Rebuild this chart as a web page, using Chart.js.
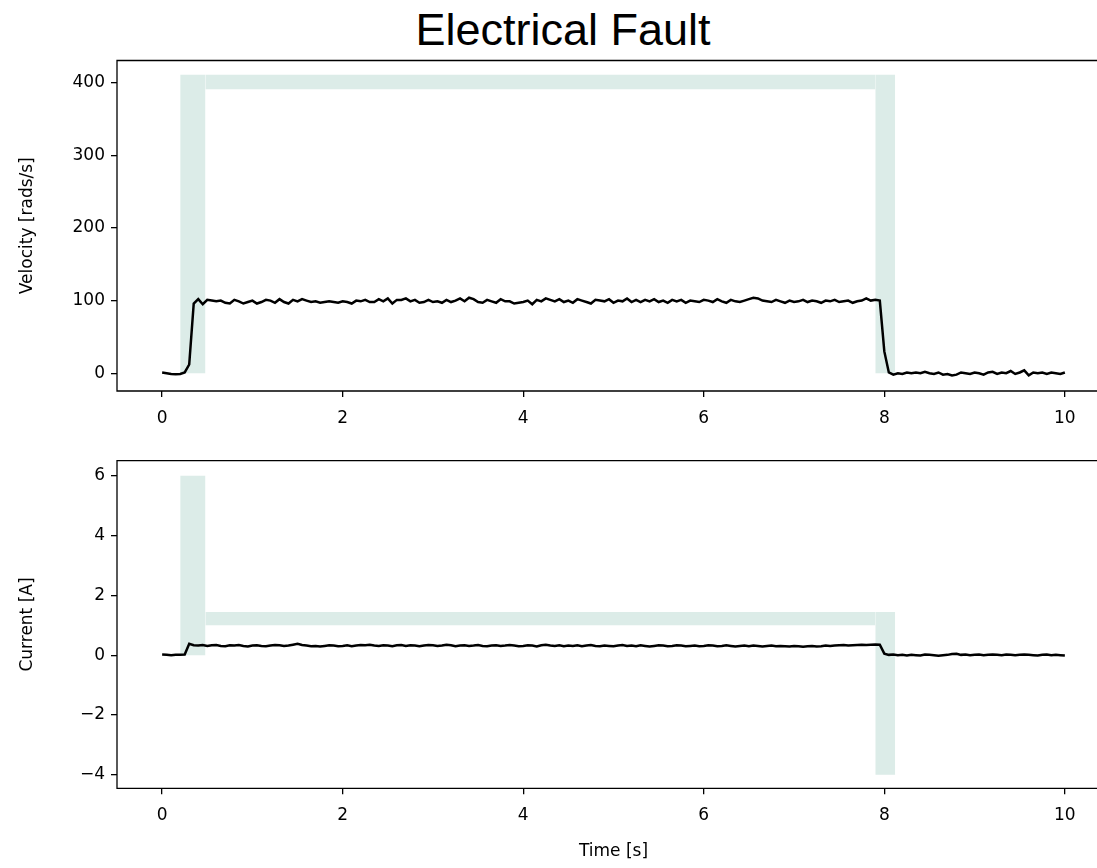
<!DOCTYPE html>
<html>
<head>
<meta charset="utf-8">
<script src="https://cdn.jsdelivr.net/npm/chart.js@4.4.1/dist/chart.umd.min.js"></script>
<style>
  html, body { margin: 0; padding: 0; background: #fff; overflow: hidden; width: 1097px; height: 868px; }
  #wrap { position: absolute; left: 0; top: 0; width: 1097px; height: 868px; overflow: hidden; }
  #title { position: absolute; left: 0; top: 7px; width: 1126px; text-align: center;
           font: 45px/45px "Liberation Sans", Arial, sans-serif; color: #000; }
  canvas { position: absolute; left: 0; }
  #velChart { top: 50px; }
  #curChart { top: 455px; }
</style>
</head>
<body>
<div id="wrap">
<div id="title">Electrical Fault</div>
<canvas id="velChart" width="1110" height="400"></canvas>
<canvas id="curChart" width="1110" height="413"></canvas>
</div>
<script>
const time = [
  0, 0.05, 0.1, 0.15, 0.2, 0.25, 0.3, 0.35, 0.4, 0.45,
  0.5, 0.55, 0.6, 0.65, 0.7, 0.75, 0.8, 0.85, 0.9, 0.95,
  1, 1.05, 1.1, 1.15, 1.2, 1.25, 1.3, 1.35, 1.4, 1.45,
  1.5, 1.55, 1.6, 1.65, 1.7, 1.75, 1.8, 1.85, 1.9, 1.95,
  2, 2.05, 2.1, 2.15, 2.2, 2.25, 2.3, 2.35, 2.4, 2.45,
  2.5, 2.55, 2.6, 2.65, 2.7, 2.75, 2.8, 2.85, 2.9, 2.95,
  3, 3.05, 3.1, 3.15, 3.2, 3.25, 3.3, 3.35, 3.4, 3.45,
  3.5, 3.55, 3.6, 3.65, 3.7, 3.75, 3.8, 3.85, 3.9, 3.95,
  4, 4.05, 4.1, 4.15, 4.2, 4.25, 4.3, 4.35, 4.4, 4.45,
  4.5, 4.55, 4.6, 4.65, 4.7, 4.75, 4.8, 4.85, 4.9, 4.95,
  5, 5.05, 5.1, 5.15, 5.2, 5.25, 5.3, 5.35, 5.4, 5.45,
  5.5, 5.55, 5.6, 5.65, 5.7, 5.75, 5.8, 5.85, 5.9, 5.95,
  6, 6.05, 6.1, 6.15, 6.2, 6.25, 6.3, 6.35, 6.4, 6.45,
  6.5, 6.55, 6.6, 6.65, 6.7, 6.75, 6.8, 6.85, 6.9, 6.95,
  7, 7.05, 7.1, 7.15, 7.2, 7.25, 7.3, 7.35, 7.4, 7.45,
  7.5, 7.55, 7.6, 7.65, 7.7, 7.75, 7.8, 7.85, 7.9, 7.95,
  8, 8.05, 8.1, 8.15, 8.2, 8.25, 8.3, 8.35, 8.4, 8.45,
  8.5, 8.55, 8.6, 8.65, 8.7, 8.75, 8.8, 8.85, 8.9, 8.95,
  9, 9.05, 9.1, 9.15, 9.2, 9.25, 9.3, 9.35, 9.4, 9.45,
  9.5, 9.55, 9.6, 9.65, 9.7, 9.75, 9.8, 9.85, 9.9, 9.95,
  10
];

const velocity = [
  1, 0, -1, -1.5, -1, 1, 12, 96, 102, 95,
  101, 100, 99, 100, 97, 96, 101, 99, 96, 98,
  100, 96, 98, 101, 100, 97, 102, 98, 96, 101,
  99, 102, 100, 98, 99, 97, 98, 99, 98, 97,
  99, 98, 96, 100, 99, 101, 98, 98, 102, 99,
  103, 96, 101, 101, 103, 99, 101, 97, 98, 101,
  98, 99, 97, 101, 98, 100, 103, 99, 104, 102,
  98, 97, 101, 99, 97, 102, 99, 99, 96, 97,
  98, 100, 95, 101, 99, 103, 101, 99, 102, 98,
  100, 97, 102, 100, 98, 96, 101, 100, 99, 102,
  97, 100, 99, 103, 98, 101, 98, 101, 99, 102,
  98, 100, 97, 101, 99, 101, 97, 100, 99, 98,
  101, 100, 98, 102, 99, 97, 101, 99, 98, 100,
  102, 104, 103, 100, 99, 98, 101, 99, 97, 100,
  98, 99, 101, 98, 100, 99, 97, 100, 99, 101,
  98, 99, 100, 97, 99, 100, 103, 100, 101, 100,
  30, 1, -2, 0, -1, 1, 0, 1, 0, 2,
  0, -1, 1, -2, -1, -3, -2, 1, 0, -1,
  1, 0, -2, 1, 2, -1, 1, 0, 3, -1,
  1, 4, -3, 1, 0, 1, -1, 1, 0, -1,
  1
];

const current = [
  0.02, 0.01, 0, 0.01, 0.01, 0.02, 0.38, 0.33, 0.32, 0.34,
  0.31, 0.33, 0.34, 0.31, 0.30, 0.33, 0.32, 0.34, 0.31, 0.29,
  0.32, 0.33, 0.31, 0.30, 0.32, 0.34, 0.33, 0.31, 0.32, 0.35,
  0.38, 0.34, 0.32, 0.30, 0.31, 0.29, 0.31, 0.33, 0.32, 0.30,
  0.31, 0.33, 0.30, 0.32, 0.34, 0.33, 0.35, 0.32, 0.31, 0.33,
  0.32, 0.30, 0.33, 0.34, 0.31, 0.33, 0.32, 0.30, 0.32, 0.34,
  0.33, 0.31, 0.32, 0.35, 0.33, 0.30, 0.32, 0.33, 0.31, 0.32,
  0.34, 0.31, 0.30, 0.32, 0.33, 0.31, 0.32, 0.34, 0.32, 0.30,
  0.31, 0.33, 0.32, 0.29, 0.33, 0.35, 0.32, 0.31, 0.33, 0.30,
  0.32, 0.31, 0.33, 0.30, 0.32, 0.34, 0.31, 0.30, 0.32, 0.31,
  0.30, 0.32, 0.34, 0.31, 0.32, 0.30, 0.33, 0.31, 0.29, 0.31,
  0.33, 0.32, 0.30, 0.31, 0.33, 0.32, 0.30, 0.31, 0.32, 0.30,
  0.31, 0.33, 0.32, 0.30, 0.31, 0.33, 0.31, 0.29, 0.31, 0.32,
  0.30, 0.32, 0.31, 0.29, 0.31, 0.32, 0.30, 0.31, 0.30, 0.29,
  0.31, 0.30, 0.28, 0.30, 0.31, 0.29, 0.30, 0.32, 0.31, 0.32,
  0.33, 0.34, 0.32, 0.33, 0.34, 0.35, 0.34, 0.35, 0.36, 0.35,
  0.05, 0.01, 0.02, 0, 0.01, -0.01, 0.01, 0, -0.01, 0.02,
  0.01, 0, -0.02, 0, 0.01, 0.04, 0.05, 0.01, 0.02, 0,
  0.01, 0.02, 0, 0.01, 0.02, 0.01, 0, 0.02, 0.01, 0,
  0.01, 0.02, 0.01, 0, -0.01, 0.01, 0.02, 0, 0.01, 0,
  -0.01
];

const timeTicks = [0, 2, 4, 6, 8, 10];
const velocityTicks = [0, 100, 200, 300, 400];
const currentTicks = [-4, -2, 0, 2, 4, 6];

// shaded fault bands: [t start, t end, low, high]
const velocityBands = [[0.2, 0.48, 0, 411], [0.48, 7.9, 391, 411], [7.9, 8.12, 0, 411]];
const currentBands = [[0.2, 0.48, 0, 6], [0.48, 7.9, 1.0, 1.44], [7.9, 8.12, -4, 1.44]];

Chart.defaults.font.family = "'DejaVu Sans', sans-serif";
Chart.defaults.font.size = 17;
Chart.defaults.color = '#000';

// spines on top, left and bottom (right one falls outside the crop)
const frame = {
  id: 'frame',
  afterDatasetsDraw(chart) {
    const { ctx, chartArea: a } = chart;
    ctx.save();
    ctx.strokeStyle = '#000';
    ctx.lineWidth = 1.3;
    ctx.beginPath();
    ctx.moveTo(a.right, a.top);
    ctx.lineTo(a.left, a.top);
    ctx.lineTo(a.left, a.bottom);
    ctx.lineTo(a.right, a.bottom);
    ctx.stroke();
    ctx.restore();
  }
};

const minusSign = (v) => (v < 0 ? '\u2212' + Math.abs(v) : String(v));

function bandSets(bands) {
  return bands.map(([t0, t1, lo, hi]) => ({
    data: [{ x: t0, y: hi }, { x: t1, y: hi }],
    fill: { value: lo },
    backgroundColor: 'rgba(95, 170, 150, 0.22)',
    borderWidth: 0,
    pointRadius: 0,
    order: 1
  }));
}

function makeChart(id, values, bands, yTicks, yMin, yMax, yTitle, xTitle, padTop, xHeight) {
  return new Chart(document.getElementById(id), {
    type: 'line',
    data: {
      datasets: [{
        data: time.map((t, i) => ({ x: t, y: values[i] })),
        borderColor: '#000',
        borderWidth: 2.5,
        pointRadius: 0,
        tension: 0,
        fill: false,
        order: 0
      }, ...bandSets(bands)]
    },
    options: {
      responsive: false,
      animation: false,
      layout: { padding: { top: padTop, left: 0, right: 0, bottom: 0 } },
      plugins: { legend: { display: false }, tooltip: { enabled: false } },
      scales: {
        x: {
          type: 'linear',
          min: -0.5,
          max: 10.5,
          afterBuildTicks: (s) => { s.ticks = timeTicks.map((v) => ({ value: v })); },
          afterFit: (s) => { s.height = xHeight; s.paddingLeft = 0; s.paddingRight = 0; },
          ticks: { padding: 11, maxRotation: 0, autoSkip: false },
          grid: { drawOnChartArea: false, color: '#000', lineWidth: 1.3, tickLength: 6 },
          border: { display: false },
          title: { display: !!xTitle, text: xTitle, padding: { top: 0, bottom: 6 } }
        },
        y: {
          min: yMin,
          max: yMax,
          afterBuildTicks: (s) => { s.ticks = yTicks.map((v) => ({ value: v })); },
          afterFit: (s) => { s.width = 117; s.paddingTop = 0; s.paddingBottom = 0; },
          ticks: { padding: 6, callback: minusSign },
          grid: { drawOnChartArea: false, color: '#000', lineWidth: 1.3, tickLength: 6 },
          border: { display: false },
          title: { display: true, text: yTitle, padding: { top: 17, bottom: 0 } }
        }
      }
    },
    plugins: [frame]
  });
}

makeChart('velChart', velocity, velocityBands, velocityTicks, -24.5, 430.7,
  'Velocity [rads/s]', '', 10.5, 59);
makeChart('curChart', current, currentBands, currentTicks, -4.45, 6.5,
  'Current [A]', 'Time [s]', 5.7, 79.7);
</script>
</body>
</html>
